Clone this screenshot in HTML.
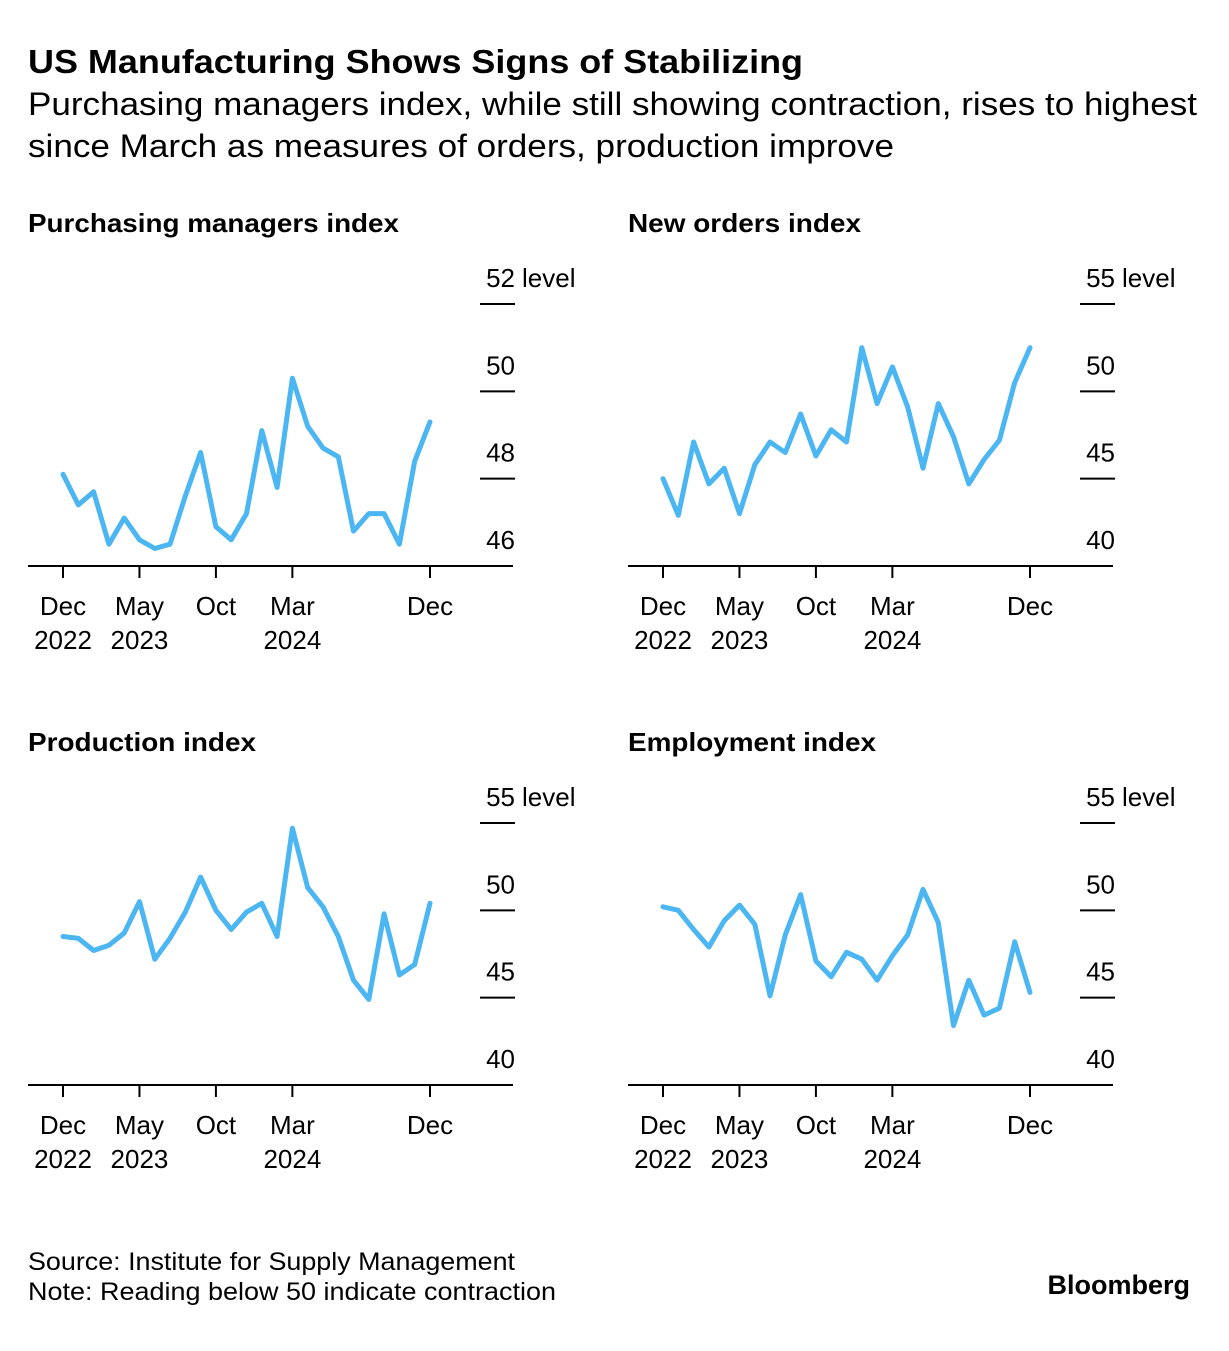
<!DOCTYPE html>
<html><head><meta charset="utf-8"><style>
body{margin:0;background:#fff;font-family:"Liberation Sans",sans-serif;}
svg text{font-family:"Liberation Sans",sans-serif;fill:#000;}
</style></head><body>
<svg id="c" width="1229" height="1346" xmlns="http://www.w3.org/2000/svg">
<text x="28" y="73" font-size="33" font-weight="bold" textLength="775" lengthAdjust="spacingAndGlyphs">US Manufacturing Shows Signs of Stabilizing</text>
<text x="28" y="115" font-size="32" textLength="1169" lengthAdjust="spacingAndGlyphs">Purchasing managers index, while still showing contraction, rises to highest</text>
<text x="28" y="157" font-size="32" textLength="866" lengthAdjust="spacingAndGlyphs">since March as measures of orders, production improve</text>
<text x="28" y="1270" font-size="25" textLength="487" lengthAdjust="spacingAndGlyphs">Source: Institute for Supply Management</text>
<text x="28" y="1300" font-size="25" textLength="528" lengthAdjust="spacingAndGlyphs">Note: Reading below 50 indicate contraction</text>
<text x="1190" y="1294" font-size="27" font-weight="bold" text-anchor="end">Bloomberg</text>
</svg>
<script>
const months = 25;
const xTickIdx = [0, 5, 10, 15, 24];
const xTickTop = ["Dec","May","Oct","Mar","Dec"];
const xTickBot = ["2022","2023","","2024",""];
const pmiValues = [48.1,47.4,47.7,46.5,47.1,46.6,46.4,46.5,47.6,48.6,46.9,46.6,47.2,49.1,47.8,50.3,49.2,48.7,48.5,46.8,47.2,47.2,46.5,48.4,49.3];
const pmiTicks = [46,48,50,52];
const ordersValues = [45.0,42.9,47.1,44.7,45.6,43.0,45.8,47.1,46.5,48.7,46.3,47.8,47.1,52.5,49.3,51.4,49.1,45.6,49.3,47.4,44.7,46.1,47.2,50.5,52.5];
const productionValues = [48.5,48.4,47.7,48.0,48.7,50.5,47.2,48.4,49.9,51.9,50.0,48.9,49.9,50.4,48.5,54.7,51.3,50.2,48.5,46.0,44.9,49.8,46.3,46.9,50.4];
const employmentValues = [50.2,50.0,48.9,47.9,49.4,50.3,49.2,45.1,48.6,50.9,47.1,46.2,47.6,47.2,46.0,47.4,48.6,51.2,49.3,43.4,46.0,44.0,44.4,48.2,45.3];
const indexTicks = [40,45,50,55];

const NS="http://www.w3.org/2000/svg";
const svg=document.getElementById('c');
function mk(tag,attrs,parent){const e=document.createElementNS(NS,tag);for(const k in attrs)e.setAttribute(k,attrs[k]);(parent||svg).appendChild(e);return e;}

function panel(ox, oy, title, values, ticks, key, titleLen){
  const g=mk('g',{});
  
  
  const t=mk('text',{x:ox+28,y:oy+232,'font-size':26,'font-weight':'bold',textLength:titleLen,lengthAdjust:'spacingAndGlyphs'},g);
  t.textContent=title;
  
  
  const x0=ox+63, x1=ox+430, base=oy+566, top=oy+304;
  const ymin=ticks[0], ymax=ticks[ticks.length-1];
  const X=i=>x0+(x1-x0)*i/(months-1);
  const Y=v=>base-(v-ymin)*(base-top)/(ymax-ymin);
  ticks.forEach((tv,i)=>{
    const y=Y(tv);
    if(i>0){
      const l=mk('line',{x1:ox+480,x2:ox+515,y1:y,y2:y,stroke:'#000','stroke-width':2},g);
      
      
    }
    const tx=mk('text',{x:ox+515,y:y-17,'font-size':26,'text-anchor':'end'},g);
    tx.textContent=String(tv);
    
    
    if(i===ticks.length-1){
      const lv=mk('text',{x:ox+522,y:y-17,'font-size':26},g);
      lv.textContent='level';
      
      
    }
  });
  const ax=mk('line',{x1:ox+28,x2:ox+513,y1:base,y2:base,stroke:'#000','stroke-width':2},g);
  
  
  xTickIdx.forEach((idx,i)=>{
    const x=X(idx);
    const tk=mk('line',{x1:x,x2:x,y1:base,y2:base+12,stroke:'#000','stroke-width':2},g);
    
    
    const a=mk('text',{x:x,y:base+49,'font-size':26,'text-anchor':'middle'},g);
    a.textContent=xTickTop[i];
    
    
    if(xTickBot[i]){
      const b=mk('text',{x:x,y:base+83,'font-size':26,'text-anchor':'middle'},g);
      b.textContent=xTickBot[i];
      
      
    }
  });
  const d=values.map((v,i)=>(i?'L':'M')+X(i).toFixed(1)+' '+Y(v).toFixed(1)).join(' ');
  const p=mk('path',{d:d,fill:'none',stroke:'#4cb6f2','stroke-width':5,'stroke-linejoin':'round','stroke-linecap':'round'},g);
  
  
}
panel(0,0,'Purchasing managers index',pmiValues,pmiTicks,'pmi',371);
panel(600,0,'New orders index',ordersValues,indexTicks,'new-orders',233);
panel(0,519,'Production index',productionValues,indexTicks,'production',228);
panel(600,519,'Employment index',employmentValues,indexTicks,'employment',248);
</script>
</body></html>
